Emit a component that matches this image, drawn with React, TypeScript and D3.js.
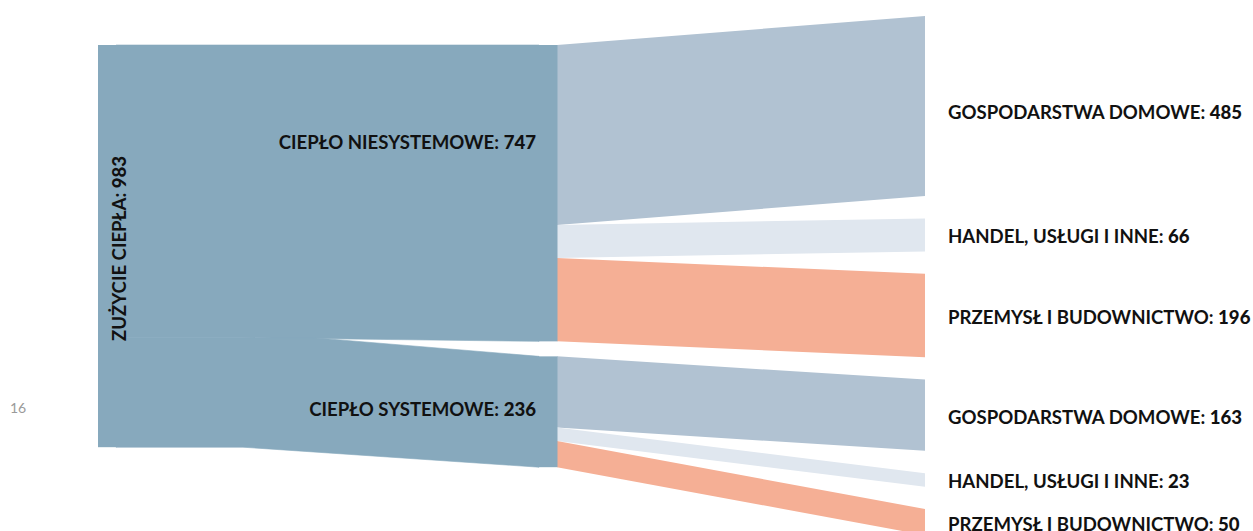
import React from 'react'
import * as d3 from 'd3'

// dane (wartości z etykiet)
const rootLabel = 'ZUŻYCIE CIEPŁA'
const rootTotal = 983
const heatTypes = ['CIEPŁO NIESYSTEMOWE', 'CIEPŁO SYSTEMOWE']
const heatTotals = [747, 236]
const sectorNames = ['GOSPODARSTWA DOMOWE', 'HANDEL, USŁUGI I INNE', 'PRZEMYSŁ I BUDOWNICTWO']
const niesystemoweValues = [485, 66, 196]
const systemoweValues = [163, 23, 50]
const sectorColors = ['#b1c2d2', '#e0e7ef', '#f5af95']
const nodeColor = '#87a9bd'
const pageNumber = '16'

const W = 1253
const H = 531

export default function App() {
  const flows = [niesystemoweValues, systemoweValues]

  // grubość strumienia – lekko nieliniowa, jak w oryginale
  const thick = d3.scalePow().exponent(0.85).domain([0, 485]).range([0, 180])

  const x = d3.scaleLinear().domain([0, 1, 2]).range([98, 539, 925])
  const nodeW = 18

  const top0 = 45
  const midPad = 15
  const rightTop = 16
  const rightPad = 22.4

  // węzły środkowe
  let yMid = top0
  const mids = flows.map((vals, i) => {
    const hs = vals.map(v => thick(v))
    const h = d3.sum(hs)
    const node = { y0: yMid, y1: yMid + h, hs, i }
    yMid += h + midPad
    return node
  })

  // węzeł główny
  const rootH = d3.sum(mids, m => m.y1 - m.y0)
  const root = { y0: top0, y1: top0 + rootH - 5 }

  // węzły po prawej
  let yR = rightTop
  const rights: { y0: number; y1: number; label: string; value: number; color: string }[] = []
  flows.forEach(vals => {
    vals.forEach((v, j) => {
      const h = thick(v)
      rights.push({ y0: yR, y1: yR + h, label: sectorNames[j], value: v, color: sectorColors[j] })
      yR += h + rightPad
    })
  })

  // ścieżki korzeń -> środek
  const leftLinks: string[] = []
  let ry = root.y0
  const rootScale = (root.y1 - root.y0) / rootH
  mids.forEach(m => {
    const h = (m.y1 - m.y0) * rootScale
    const xa = x(0) + nodeW
    const xb = x(1)
    const tTop = xa + (xb - xa) * 0.466
    const tBot = xa + (xb - xa) * 0.3
    const p = d3.path()
    p.moveTo(xa, ry)
    p.lineTo(tTop, ry)
    p.lineTo(xb, m.y0)
    p.lineTo(xb, m.y1)
    p.lineTo(tBot, ry + h)
    p.lineTo(xa, ry + h)
    p.closePath()
    leftLinks.push(p.toString())
    ry += h
  })

  // ścieżki środek -> prawa
  const rightLinks: { d: string; color: string }[] = []
  let k = 0
  mids.forEach(m => {
    let sy = m.y0
    m.hs.forEach((h, j) => {
      const r = rights[k++]
      const xa = x(1) + nodeW
      const xb = x(2)
      const p = d3.path()
      p.moveTo(xa, sy)
      p.lineTo(xb, r.y0)
      p.lineTo(xb, r.y1)
      p.lineTo(xa, sy + h)
      p.closePath()
      rightLinks.push({ d: p.toString(), color: sectorColors[j] })
      sy += h
    })
  })

  const midLabelPos = [0.33, 0.48]
  const font = 'Lato, "Open Sans", sans-serif'
  const fs = 18.6

  return (
    <svg width={W} height={H} style={{ position: 'absolute', left: 0, top: 0 }} fontFamily={font}>
      <rect width={W} height={H} fill="#fff" />
      {rightLinks.map((l, i) => (
        <path key={'r' + i} d={l.d} fill={l.color} />
      ))}
      {leftLinks.map((d, i) => (
        <path key={'l' + i} d={d} fill={nodeColor} stroke={nodeColor} strokeWidth={0.6} />
      ))}
      <rect x={x(0)} y={root.y0} width={nodeW + 0.5} height={root.y1 - root.y0} fill={nodeColor} />
      {mids.map(m => (
        <rect key={'m' + m.i} x={x(1) - 0.5} y={m.y0} width={nodeW + 1} height={m.y1 - m.y0} fill={nodeColor} />
      ))}

      <text
        transform={`translate(${x(0) + 28},${top0 + 296}) rotate(-90)`}
        fontSize={fs}
        fontWeight={700}
        fill="#111"
      >
        {rootLabel}: <tspan fontWeight={900}>{rootTotal}</tspan>
      </text>

      {mids.map(m => (
        <text
          key={'ml' + m.i}
          x={x(1) - 3}
          y={m.y0 + (m.y1 - m.y0) * midLabelPos[m.i]}
          dy="0.35em"
          textAnchor="end"
          fontSize={fs}
          fontWeight={700}
          fill="#111"
        >
          {heatTypes[m.i]}: <tspan fontWeight={900}>{heatTotals[m.i]}</tspan>
        </text>
      ))}

      {rights.map((r, i) => (
        <text
          key={'rl' + i}
          x={x(2) + 23}
          y={(r.y0 + r.y1) / 2 + (i === 0 ? 6 : 2)}
          dy="0.35em"
          fontSize={fs}
          fontWeight={700}
          fill="#111"
        >
          {r.label}: <tspan fontWeight={900}>{r.value}</tspan>
        </text>
      ))}

      <text x={10} y={413} fontSize={14} fill="#9a9a9a">
        {pageNumber}
      </text>
    </svg>
  )
}
